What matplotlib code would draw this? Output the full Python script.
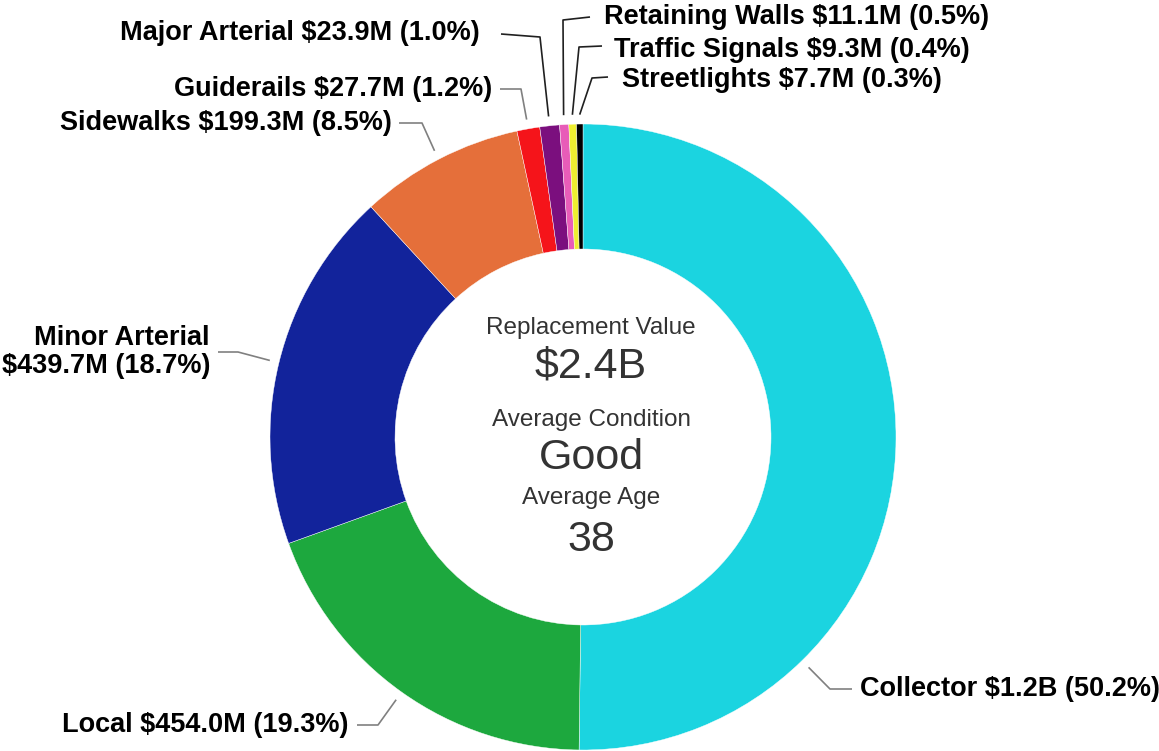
import numpy as np
import matplotlib
matplotlib.use("Agg")
import matplotlib.pyplot as plt

categories = ["Collector", "Local", "Minor Arterial", "Sidewalks", "Guiderails",
              "Major Arterial", "Retaining Walls", "Traffic Signals", "Streetlights"]
values_m = [1182.1, 454.0, 439.7, 199.3, 27.7, 23.9, 11.1, 9.3, 7.7]
value_labels = ["$1.2B", "$454.0M", "$439.7M", "$199.3M", "$27.7M", "$23.9M",
                "$11.1M", "$9.3M", "$7.7M"]
pct_labels = ["50.2%", "19.3%", "18.7%", "8.5%", "1.2%", "1.0%", "0.5%", "0.4%", "0.3%"]
colors = ["#1BD4E0", "#1DA83E", "#12239B", "#E56F3A", "#F5141A",
          "#7B0F7E", "#E85CB8", "#EEEE30", "#000000"]

center_titles = ["Replacement Value", "Average Condition", "Average Age"]
center_values = ["$2.4B", "Good", "38"]

W, H = 1159, 751
fig = plt.figure(figsize=(W / 100, H / 100), dpi=100)
ax = fig.add_axes([0, 0, 1, 1])
ax.axis("off")

def py(y):
    return H - y

cx, cy = 583, py(437)
R = 313
wedges, _ = ax.pie(values_m, colors=colors, startangle=90, counterclock=False,
                   radius=R, center=(cx, cy),
                   wedgeprops=dict(width=R - 188, linewidth=0.3, edgecolor="white"))
ax.set_xlim(0, W)
ax.set_ylim(0, H)
ax.set_aspect("auto")

# label layout: (text x, text y, ha, elbow point, text-end point, line color, anchor angle override)
layout = {
    "Collector":       (860, 689, "left",  (830, 689), (852, 689), "#808080", -45.6),
    "Local":           (348, 725, "right", (378, 725), (357, 725), "#808080", None),
    "Minor Arterial":  (210, 352, "right", (238, 352), (218, 352), "#808080", None),
    "Sidewalks":       (392, 123, "right", (422, 123), (399, 123), "#808080", None),
    "Guiderails":      (492, 89,  "right", (521, 89),  (500, 89),  "#808080", None),
    "Major Arterial":  (480, 33,  "right", (540, 37),  (501, 34),  "#202020", None),
    "Retaining Walls": (604, 17,  "left",  (563, 20),  (590, 17),  "#202020", None),
    "Traffic Signals": (614, 50,  "left",  (579, 47),  (602, 46),  "#202020", None),
    "Streetlights":    (622, 80,  "left",  (592, 78),  (608, 77),  "#202020", None),
}

for w, cat, vl, pl in zip(wedges, categories, value_labels, pct_labels):
    tx, ty, ha, elbow, tend, lc, ang = layout[cat]
    a = np.deg2rad(ang if ang is not None else (w.theta1 + w.theta2) / 2)
    ax_pt = (cx + R * 1.03 * np.cos(a), cy + R * 1.03 * np.sin(a))
    xs = [ax_pt[0], elbow[0], tend[0]]
    ys = [ax_pt[1], py(elbow[1]), py(tend[1])]
    ax.plot(xs, ys, color=lc, lw=1.2, solid_capstyle="butt")
    if cat == "Minor Arterial":
        txt = f"{cat}\n{vl} ({pl})"
    else:
        txt = f"{cat} {vl} ({pl})"
    ax.text(tx, py(ty), txt, ha=ha, va="center", fontsize=19.5,
            fontweight="bold", family="Liberation Sans", color="#000000",
            linespacing=1.1, multialignment="right")

ys_t = [328, 420, 498]
ys_v = [367, 458, 540]
for t, v, yt, yv in zip(center_titles, center_values, ys_t, ys_v):
    ax.text(591, py(yt), t, ha="center", va="center", fontsize=17.5,
            family="Liberation Sans", color="#333333")
    ax.text(591, py(yv), v, ha="center", va="center", fontsize=31,
            family="Liberation Sans", color="#333333")

fig.savefig("out.png", dpi=100, facecolor="white")
